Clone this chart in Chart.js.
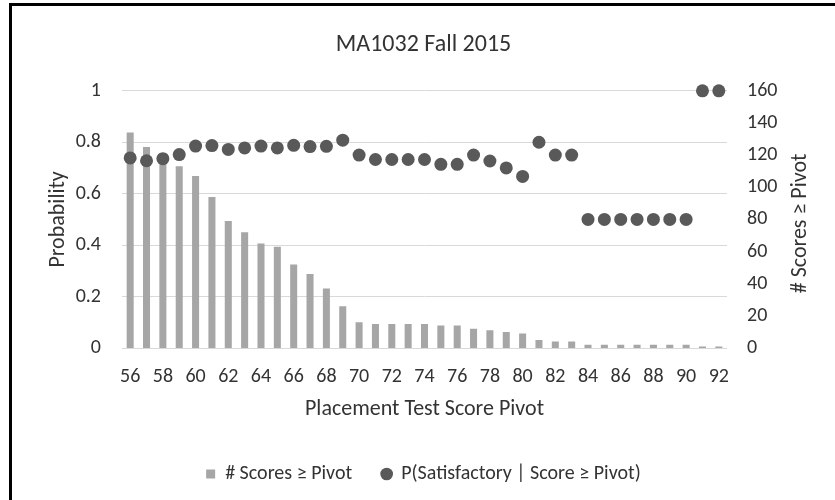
<!DOCTYPE html>
<html>
<head>
<meta charset="utf-8">
<title>MA1032 Fall 2015</title>
<script src="https://cdn.jsdelivr.net/npm/chart.js@4.4.1/dist/chart.umd.min.js"></script>
<style>
  html, body { margin: 0; padding: 0; background: #fff; }
  #wrap { position: relative; width: 835px; height: 500px; overflow: hidden; }
  #frame {
    position: absolute; left: 9px; top: 3px; right: -10px; bottom: -10px;
    border-left: 3px solid #000; border-top: 3px solid #000;
    pointer-events: none;
  }
</style>
</head>
<body>
<div id="wrap">
  <canvas id="chart"></canvas>
  <div id="frame"></div>
</div>
<script>
  // placement test score pivots (x categories)
  const pivots = [56, 57, 58, 59, 60, 61, 62, 63, 64, 65, 66, 67, 68, 69, 70, 71, 72, 73, 74,
    75, 76, 77, 78, 79, 80, 81, 82, 83, 84, 85, 86, 87, 88, 89, 90, 91, 92];

  // # scores >= pivot (right axis)
  const scoreCounts = [134, 125, 121, 113, 107, 94, 79, 72, 65, 63, 52, 46, 37, 26, 16, 15, 15, 15, 15,
    14, 14, 12, 11, 10, 9, 5, 4, 4, 2, 2, 2, 2, 2, 2, 2, 1, 1];

  // P(satisfactory | score >= pivot) (left axis)
  const probSatisfactory = [0.739, 0.728, 0.736, 0.752, 0.785, 0.787, 0.772, 0.778, 0.785, 0.778,
    0.788, 0.783, 0.784, 0.808, 0.750, 0.733, 0.733, 0.733, 0.733, 0.714, 0.714, 0.750, 0.727,
    0.700, 0.667, 0.800, 0.750, 0.750, 0.5, 0.5, 0.5, 0.5, 0.5, 0.5, 0.5, 1.0, 1.0];

  const FONT = "Carlito, Lato, 'Open Sans', sans-serif";
  const TEXT = "#333333";

  // right-hand axis title, read bottom-to-top like the left one
  const rightTitle = {
    id: "rightTitle",
    afterDraw(chart) {
      const { ctx, chartArea } = chart;
      ctx.save();
      ctx.translate(chart.scales.y1.right - 35, (chartArea.top + chartArea.bottom) / 2 + 4);
      ctx.rotate(-Math.PI / 2);
      ctx.font = "22px " + FONT;
      ctx.fillStyle = TEXT;
      ctx.textAlign = "center";
      ctx.textBaseline = "middle";
      ctx.fillText("# Scores \u2265 Pivot", 0, 0);
      ctx.restore();
    }
  };

  new Chart(document.getElementById("chart"), {
    data: {
      labels: pivots,
      datasets: [
        {
          type: "bar",
          label: "# Scores \u2265 Pivot",
          data: scoreCounts,
          yAxisID: "y1",
          backgroundColor: "#a6a6a6",
          categoryPercentage: 1,
          barPercentage: 0.43,
          pointStyle: "rect",
          order: 1
        },
        {
          type: "line",
          label: "P(Satisfactory | Score \u2265 Pivot)",
          data: probSatisfactory,
          yAxisID: "y",
          showLine: false,
          pointRadius: 6.5,
          pointHoverRadius: 6.5,
          pointBorderWidth: 0,
          pointBackgroundColor: "#595959",
          backgroundColor: "#595959",
          borderColor: "#595959",
          pointStyle: "circle",
          clip: false,
          order: 0
        }
      ]
    },
    options: {
      responsive: true,
      maintainAspectRatio: false,
      animation: false,
      layout: { padding: { left: 12, right: 0, top: 0, bottom: 6 } },
      plugins: {
        title: {
          display: true,
          text: "MA1032 Fall 2015",
          color: TEXT,
          font: { family: FONT, size: 24, weight: "normal" },
          padding: { top: 31, bottom: 31 }
        },
        legend: {
          position: "bottom",
          labels: {
            color: TEXT,
            font: { family: FONT, size: 20 },
            usePointStyle: true,
            boxWidth: 9,
            boxHeight: 9,
            padding: 30,
            sort: (a, b) => a.datasetIndex - b.datasetIndex
          }
        },
        tooltip: { enabled: false }
      },
      scales: {
        x: {
          grid: { display: false },
          border: { display: false },
          ticks: {
            color: TEXT,
            font: { family: FONT, size: 20 },
            autoSkip: false,
            maxRotation: 0,
            padding: 9,
            callback: function (value, index) {
              return index % 2 === 0 ? this.getLabelForValue(value) : "";
            }
          },
          title: {
            display: true,
            text: "Placement Test Score Pivot",
            color: TEXT,
            font: { family: FONT, size: 22 },
            padding: { top: 0, bottom: 11 }
          },
          afterFit: (scale) => { scale.height = 86; }
        },
        y: {
          position: "left",
          min: 0,
          max: 1,
          grid: { color: "#d9d9d9", drawTicks: false },
          border: { display: false },
          ticks: {
            stepSize: 0.2,
            color: TEXT,
            font: { family: FONT, size: 20 },
            padding: 21,
            callback: (value) => String(+value.toFixed(1))
          },
          title: {
            display: true,
            text: "Probability",
            color: TEXT,
            font: { family: FONT, size: 22 },
            padding: { top: 33, bottom: 0 }
          },
          afterFit: (scale) => { scale.width = 110; }
        },
        y1: {
          position: "right",
          min: 0,
          max: 160,
          grid: { display: false, drawTicks: false },
          border: { display: false },
          ticks: {
            stepSize: 20,
            color: TEXT,
            font: { family: FONT, size: 20 },
            padding: 20
          },
          afterFit: (scale) => { scale.width = 108; }
        }
      }
    },
    plugins: [rightTitle]
  });
</script>
</body>
</html>
